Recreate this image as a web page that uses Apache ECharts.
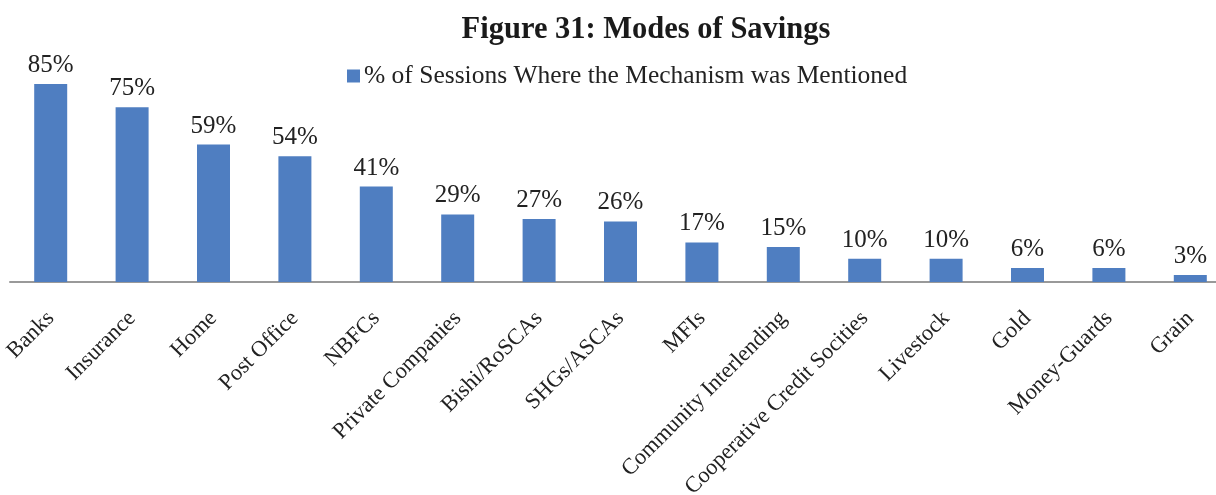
<!DOCTYPE html>
<html>
<head>
<meta charset="utf-8">
<script src="https://cdn.jsdelivr.net/npm/echarts@6/dist/echarts.min.js"></script>
<style>
  html, body { margin: 0; padding: 0; background: #fff; }
  #chart { width: 1216px; height: 495px; }
</style>
</head>
<body>
<div id="chart"></div>
<script>
// modes of savings
const categories = ['Banks', 'Insurance', 'Home', 'Post Office', 'NBFCs', 'Private Companies',
  'Bishi/RoSCAs', 'SHGs/ASCAs', 'MFIs', 'Community Interlending', 'Cooperative Credit Socities',
  'Livestock', 'Gold', 'Money-Guards', 'Grain']
const shares = [85, 75, 59, 54, 41, 29, 27, 26, 17, 15, 10, 10, 6, 6, 3]

const chart = echarts.init(document.getElementById('chart'))
const font = 'Liberation Serif, Times New Roman, serif'
chart.setOption({
  animation: false,
  textStyle: { fontFamily: font },
  title: {
    text: 'Figure 31: Modes of Savings',
    left: 641,
    textAlign: 'center',
    top: 10,
    textStyle: { fontFamily: font, fontSize: 30.5, fontWeight: 'bold', color: '#1a1a1a' }
  },
  legend: {
    data: ['% of Sessions Where the Mechanism was Mentioned'],
    left: 342,
    top: 58,
    icon: 'rect',
    itemWidth: 13,
    itemHeight: 13,
    itemGap: 5,
    textStyle: { fontFamily: font, fontSize: 25.5, color: '#222', padding: [0, 0, 0, -1] }
  },
  grid: { left: 10, right: -15, top: 49, bottom: 213, containLabel: false, outerBoundsMode: 'none' },
  xAxis: {
    type: 'category',
    data: categories,
    axisLine: { lineStyle: { color: '#999', width: 2 } },
    axisTick: { show: false },
    axisLabel: {
      interval: 0,
      rotate: 45,
      fontSize: 22.5,
      color: '#222',
      fontFamily: font,
      margin: 33
    }
  },
  yAxis: { type: 'value', min: 0, max: 100, show: false },
  series: [{
    name: '% of Sessions Where the Mechanism was Mentioned',
    type: 'bar',
    data: shares,
    barWidth: 33,
    itemStyle: { color: '#4f7ec1' },
    label: {
      show: true,
      position: 'top',
      distance: 6,
      formatter: '{c}%',
      fontSize: 25,
      color: '#222',
      fontFamily: font
    }
  }]
})
</script>
</body>
</html>
